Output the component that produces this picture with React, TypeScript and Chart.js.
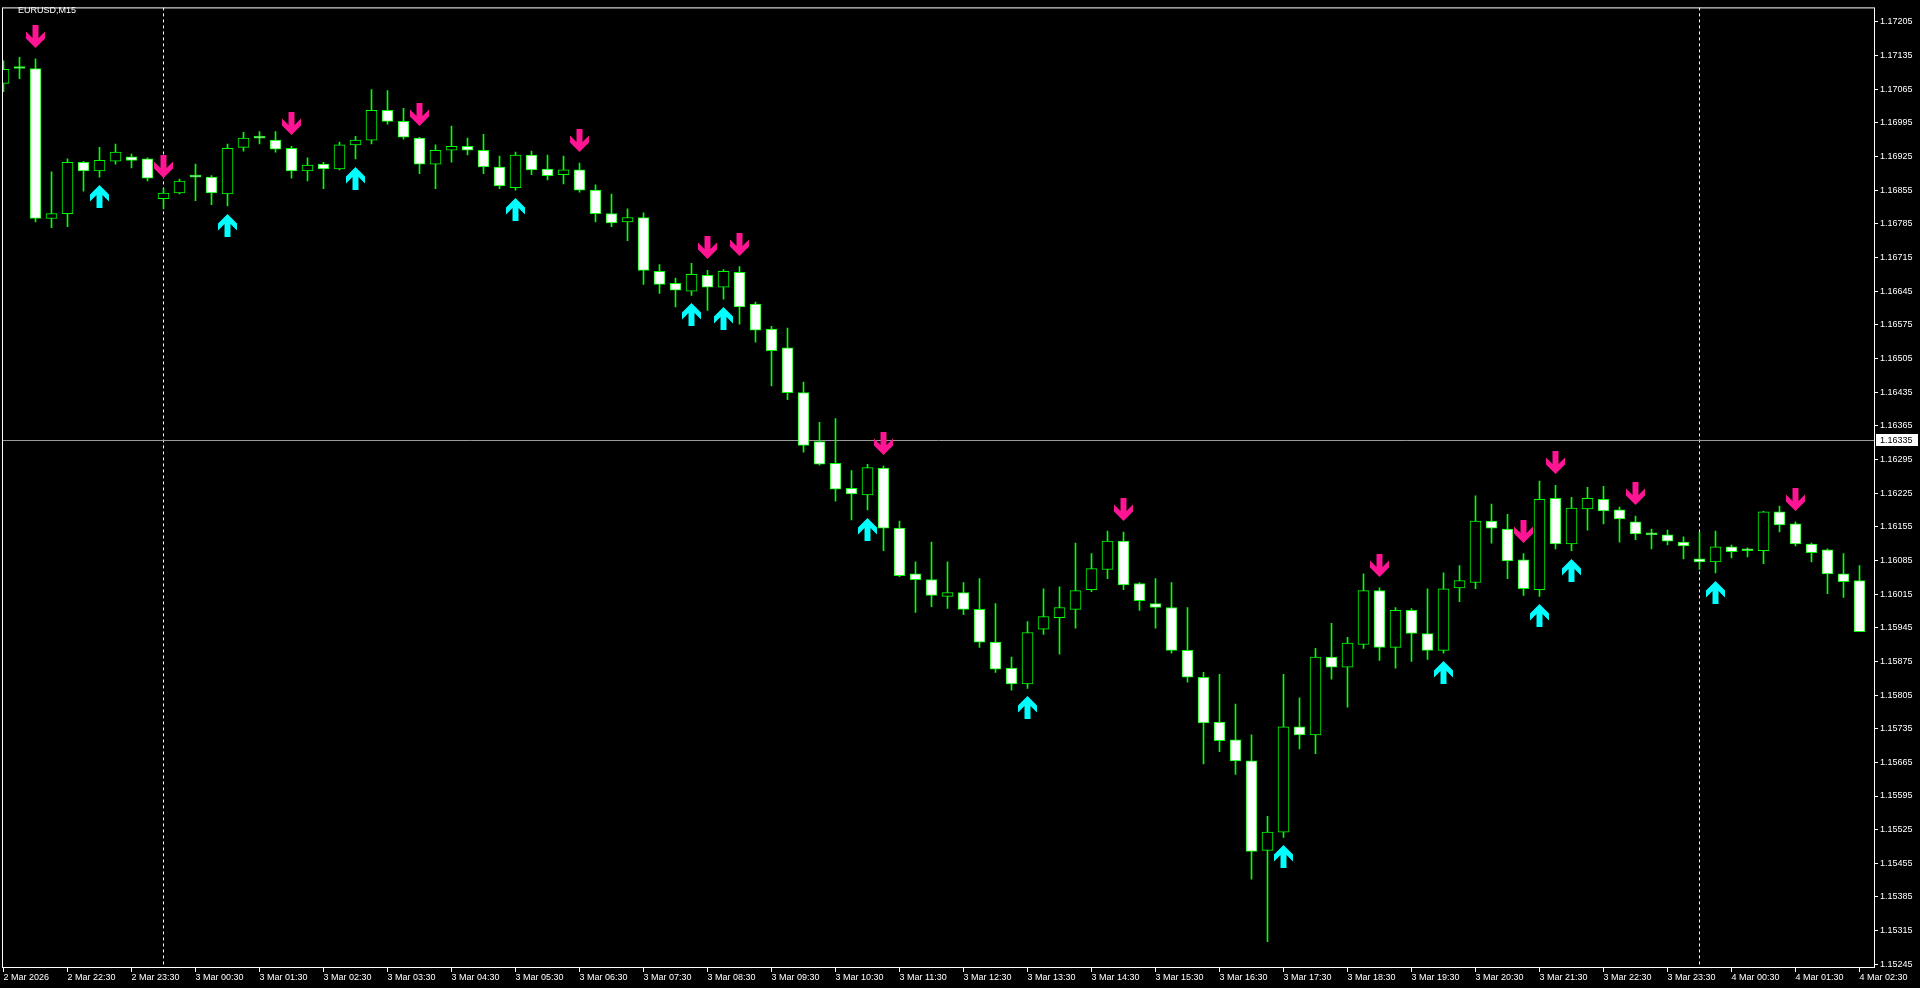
import { useEffect, useRef } from 'react';
import { Chart, registerables } from 'chart.js';

Chart.register(...registerables);

const symbolTitle = 'EURUSD,M15';

const openPrices = [
  1.17077, 1.17108, 1.17108, 1.16796, 1.16806, 1.16913, 1.16895, 1.16915, 1.16924, 1.16920,
  1.16837, 1.16849, 1.16882, 1.16882, 1.16847, 1.16944, 1.16963, 1.16959, 1.16942, 1.16895,
  1.16909, 1.16899, 1.16949, 1.16959, 1.17021, 1.16998, 1.16963, 1.16909, 1.16938, 1.16946,
  1.16938, 1.16903, 1.16860, 1.16928, 1.16899, 1.16887, 1.16897, 1.16855, 1.16806, 1.16789,
  1.16798, 1.16686, 1.16661, 1.16645, 1.16678, 1.16653, 1.16684, 1.16618, 1.16566, 1.16527,
  1.16434, 1.16332, 1.16287, 1.16235, 1.16221, 1.16277, 1.16152, 1.16057, 1.16045, 1.16010,
  1.16018, 1.15983, 1.15915, 1.15861, 1.15828, 1.15942, 1.15966, 1.15983, 1.16024, 1.16066,
  1.16125, 1.16037, 1.15995, 1.15987, 1.15898, 1.15842, 1.15749, 1.15712, 1.15668, 1.15482,
  1.15520, 1.15739, 1.15722, 1.15884, 1.15863, 1.15910, 1.16022, 1.15904, 1.15981, 1.15933,
  1.15898, 1.16028, 1.16039, 1.16167, 1.16150, 1.16086, 1.16024, 1.16214, 1.16119, 1.16192,
  1.16212, 1.16190, 1.16165, 1.16138, 1.16138, 1.16123, 1.16088, 1.16082, 1.16113, 1.16105,
  1.16105, 1.16186, 1.16161, 1.16119, 1.16107, 1.16057, 1.16043,
];

const highPrices = [
  1.17124, 1.17131, 1.17128, 1.16893, 1.16920, 1.16915, 1.16944, 1.16951, 1.16930, 1.16922,
  1.16858, 1.16878, 1.16909, 1.16885, 1.16951, 1.16975, 1.16977, 1.16977, 1.16946, 1.16922,
  1.16913, 1.16955, 1.16967, 1.17064, 1.17062, 1.17025, 1.16965, 1.16949, 1.16988, 1.16963,
  1.16971, 1.16926, 1.16934, 1.16936, 1.16928, 1.16926, 1.16911, 1.16866, 1.16847, 1.16816,
  1.16808, 1.16700, 1.16672, 1.16703, 1.16688, 1.16690, 1.16696, 1.16622, 1.16572, 1.16568,
  1.16456, 1.16372, 1.16380, 1.16272, 1.16285, 1.16281, 1.16167, 1.16082, 1.16123, 1.16082,
  1.16039, 1.16047, 1.15995, 1.15884, 1.15958, 1.16026, 1.16030, 1.16121, 1.16099, 1.16146,
  1.16144, 1.16039, 1.16047, 1.16039, 1.15987, 1.15852, 1.15848, 1.15786, 1.15722, 1.15553,
  1.15848, 1.15799, 1.15902, 1.15954, 1.15925, 1.16057, 1.16028, 1.15987, 1.15985, 1.16026,
  1.16059, 1.16074, 1.16219, 1.16202, 1.16181, 1.16099, 1.16250, 1.16241, 1.16216, 1.16237,
  1.16239, 1.16196, 1.16177, 1.16150, 1.16148, 1.16134, 1.16144, 1.16146, 1.16117, 1.16111,
  1.16187, 1.16198, 1.16165, 1.16121, 1.16109, 1.16099, 1.16074,
];

const lowPrices = [
  1.17060, 1.17087, 1.16789, 1.16777, 1.16779, 1.16853, 1.16882, 1.16909, 1.16901, 1.16874,
  1.16816, 1.16847, 1.16833, 1.16825, 1.16822, 1.16936, 1.16951, 1.16934, 1.16880, 1.16874,
  1.16858, 1.16897, 1.16920, 1.16951, 1.16992, 1.16961, 1.16889, 1.16858, 1.16913, 1.16928,
  1.16889, 1.16858, 1.16855, 1.16887, 1.16876, 1.16868, 1.16851, 1.16789, 1.16779, 1.16750,
  1.16659, 1.16640, 1.16612, 1.16636, 1.16605, 1.16628, 1.16576, 1.16539, 1.16448, 1.16419,
  1.16310, 1.16283, 1.16208, 1.16169, 1.16190, 1.16105, 1.16051, 1.15977, 1.15989, 1.15985,
  1.15972, 1.15904, 1.15852, 1.15815, 1.15819, 1.15931, 1.15890, 1.15944, 1.16020, 1.16047,
  1.16024, 1.15981, 1.15944, 1.15892, 1.15832, 1.15662, 1.15687, 1.15640, 1.15422, 1.15292,
  1.15509, 1.15693, 1.15683, 1.15838, 1.15780, 1.15902, 1.15877, 1.15861, 1.15875, 1.15879,
  1.15892, 1.15999, 1.16026, 1.16121, 1.16047, 1.16012, 1.16010, 1.16109, 1.16105, 1.16148,
  1.16161, 1.16123, 1.16128, 1.16109, 1.16117, 1.16088, 1.16066, 1.16059, 1.16090, 1.16092,
  1.16078, 1.16144, 1.16115, 1.16082, 1.16016, 1.16008, 1.15937,
];

const closePrices = [
  1.17106, 1.17108, 1.16796, 1.16806, 1.16913, 1.16895, 1.16917, 1.16934, 1.16917, 1.16880,
  1.16849, 1.16874, 1.16882, 1.16849, 1.16942, 1.16963, 1.16963, 1.16940, 1.16895, 1.16907,
  1.16899, 1.16949, 1.16959, 1.17021, 1.16998, 1.16965, 1.16909, 1.16938, 1.16946, 1.16938,
  1.16903, 1.16864, 1.16928, 1.16897, 1.16885, 1.16897, 1.16855, 1.16806, 1.16787, 1.16798,
  1.16688, 1.16659, 1.16647, 1.16680, 1.16653, 1.16686, 1.16612, 1.16564, 1.16521, 1.16434,
  1.16324, 1.16285, 1.16233, 1.16223, 1.16278, 1.16152, 1.16053, 1.16045, 1.16012, 1.16018,
  1.15983, 1.15915, 1.15859, 1.15828, 1.15935, 1.15968, 1.15987, 1.16022, 1.16068, 1.16125,
  1.16034, 1.16001, 1.15987, 1.15898, 1.15842, 1.15747, 1.15710, 1.15668, 1.15480, 1.15520,
  1.15739, 1.15722, 1.15884, 1.15863, 1.15913, 1.16022, 1.15904, 1.15981, 1.15933, 1.15898,
  1.16026, 1.16043, 1.16167, 1.16152, 1.16084, 1.16026, 1.16212, 1.16119, 1.16194, 1.16214,
  1.16188, 1.16171, 1.16140, 1.16138, 1.16125, 1.16115, 1.16082, 1.16113, 1.16103, 1.16105,
  1.16186, 1.16159, 1.16119, 1.16101, 1.16057, 1.16041, 1.15937,
];

// bar indexes carrying signal arrows
const sellSignals = [2, 10, 18, 26, 36, 44, 46, 55, 70, 86, 95, 97, 102, 112];
const buySignals = [6, 14, 22, 32, 43, 45, 54, 64, 80, 90, 96, 98, 107];

const xTickLabels = [
  '2 Mar 2026', '2 Mar 22:30', '2 Mar 23:30',
  '3 Mar 00:30', '3 Mar 01:30', '3 Mar 02:30', '3 Mar 03:30', '3 Mar 04:30', '3 Mar 05:30',
  '3 Mar 06:30', '3 Mar 07:30', '3 Mar 08:30', '3 Mar 09:30', '3 Mar 10:30', '3 Mar 11:30',
  '3 Mar 12:30', '3 Mar 13:30', '3 Mar 14:30', '3 Mar 15:30', '3 Mar 16:30', '3 Mar 17:30',
  '3 Mar 18:30', '3 Mar 19:30', '3 Mar 20:30', '3 Mar 21:30', '3 Mar 22:30', '3 Mar 23:30',
  '4 Mar 00:30', '4 Mar 01:30', '4 Mar 02:30',
];
const barsPerLabel = 4;

const yTickValues = [
  1.15245, 1.15315, 1.15385, 1.15455, 1.15525, 1.15595, 1.15665, 1.15735, 1.15805, 1.15875,
  1.15945, 1.16015, 1.16085, 1.16155, 1.16225, 1.16295, 1.16365, 1.16435, 1.16505, 1.16575,
  1.16645, 1.16715, 1.16785, 1.16855, 1.16925, 1.16995, 1.17065, 1.17135, 1.17205,
];

const dayBreaks = [10, 106];
const hLinePrice = 1.16335;

const Y_MIN = 1.1523734;
const Y_MAX = 1.1723499;
const X_MIN = -0.09375;
const X_MAX = 116.96875;

const FONT = 'Liberation Sans, Arial, sans-serif';

function drawArrow(ctx: CanvasRenderingContext2D, cx: number, ty: number, down: boolean, color: string) {
  const pts = [[-3, 0], [3, 0], [3, 13], [9.5, 6.5], [9.5, 13.5], [0, 23], [-9.5, 13.5], [-9.5, 6.5], [-3, 13]];
  ctx.beginPath();
  pts.forEach(([dx, dy], k) => {
    const yy = down ? ty + dy : ty + (23 - dy);
    if (k === 0) ctx.moveTo(cx + dx, yy);
    else ctx.lineTo(cx + dx, yy);
  });
  ctx.closePath();
  ctx.fillStyle = color;
  ctx.fill();
}

export default function App() {
  const ref = useRef<HTMLCanvasElement>(null);

  useEffect(() => {
    document.body.style.margin = '0';
    document.body.style.background = '#000';
    const canvas = ref.current!;
    const idx = openPrices.map((_, i) => i);
    const bodyData = idx.map((i) => ({ x: i, y: [openPrices[i], closePrices[i]] }));
    const wickData = idx.map((i) => ({ x: i, y: [lowPrices[i], highPrices[i]] }));
    const bodyFill = idx.map((i) => (closePrices[i] > openPrices[i] ? '#000000' : '#ffffff'));

    const mt4Plugin = {
      id: 'mt4',
      beforeDraw(chart: any) {
        const ctx = chart.ctx;
        ctx.save();
        ctx.fillStyle = '#000000';
        ctx.fillRect(0, 0, chart.width, chart.height);
        ctx.restore();
      },
      beforeDatasetsDraw(chart: any) {
        const { ctx, chartArea, scales } = chart;
        ctx.save();
        ctx.beginPath();
        ctx.rect(chartArea.left, chartArea.top, chartArea.right - chartArea.left, chartArea.bottom - chartArea.top);
        ctx.clip();
        // day separators
        ctx.strokeStyle = '#ffffff';
        ctx.lineWidth = 1;
        ctx.setLineDash([3, 3]);
        dayBreaks.forEach((b) => {
          const x = Math.round(scales.x.getPixelForValue(b) - 0.5) + 0.5;
          ctx.beginPath();
          ctx.moveTo(x, chartArea.top);
          ctx.lineTo(x, chartArea.bottom);
          ctx.stroke();
        });
        ctx.setLineDash([]);
        // horizontal price line
        const yp = Math.round(scales.y.getPixelForValue(hLinePrice) - 0.5) + 0.5;
        ctx.strokeStyle = '#9a9a9a';
        ctx.beginPath();
        ctx.moveTo(chartArea.left, yp);
        ctx.lineTo(chartArea.right, yp);
        ctx.stroke();
        ctx.restore();
      },
      afterDatasetsDraw(chart: any) {
        const { ctx, chartArea, scales } = chart;
        ctx.save();
        ctx.beginPath();
        ctx.rect(chartArea.left, chartArea.top, chartArea.right - chartArea.left, chartArea.bottom - chartArea.top);
        ctx.clip();
        sellSignals.forEach((i) => {
          const cx = scales.x.getPixelForValue(i);
          const yh = scales.y.getPixelForValue(highPrices[i]);
          drawArrow(ctx, cx, Math.round(yh - 11 - 23), true, '#ff1493');
        });
        buySignals.forEach((i) => {
          const cx = scales.x.getPixelForValue(i);
          const yl = scales.y.getPixelForValue(lowPrices[i]);
          drawArrow(ctx, cx, Math.round(yl + 8), false, '#00ffff');
        });
        ctx.restore();
      },
      afterDraw(chart: any) {
        const { ctx, chartArea, scales } = chart;
        ctx.save();
        ctx.strokeStyle = '#ffffff';
        ctx.lineWidth = 1;
        ctx.strokeRect(chartArea.left + 0.5, chartArea.top + 0.5, chartArea.right - chartArea.left - 1, chartArea.bottom - chartArea.top - 1);
        // title
        ctx.fillStyle = '#ffffff';
        ctx.font = `9px ${FONT}`;
        ctx.textBaseline = 'middle';
        ctx.textAlign = 'left';
        ctx.fillText(symbolTitle, 18, 11);
        // price label
        const yp = scales.y.getPixelForValue(hLinePrice);
        const bx = chartArea.right + 1;
        ctx.fillStyle = '#ffffff';
        ctx.fillRect(bx, Math.round(yp) - 6, 42, 12);
        ctx.fillStyle = '#000000';
        ctx.fillText(hLinePrice.toFixed(5), bx + 4, Math.round(yp) + 0.5);
        ctx.restore();
      },
    };

    const chart = new Chart(canvas, {
      type: 'bar',
      data: {
        datasets: [
          {
            label: 'wick',
            data: wickData as any,
            backgroundColor: '#00ff00',
            borderWidth: 0,
            barThickness: 1,
            grouped: false,
            order: 1,
          } as any,
          {
            label: 'body',
            data: bodyData as any,
            backgroundColor: bodyFill,
            borderColor: '#00ff00',
            borderWidth: 1,
            borderSkipped: false,
            barThickness: 11,
            minBarLength: 2,
            grouped: false,
            order: 0,
          } as any,
        ],
      },
      options: {
        animation: false,
        responsive: false,
        devicePixelRatio: 1,
        layout: { padding: { left: 2, top: 2, right: 0, bottom: 0 }, autoPadding: false } as any,
        plugins: {
          legend: { display: false },
          tooltip: { enabled: false },
        },
        scales: {
          x: {
            type: 'linear',
            min: X_MIN,
            max: X_MAX,
            offset: false,
            afterFit: (s: any) => { s.height = 20; },
            afterBuildTicks: (s: any) => {
              s.ticks = xTickLabels.map((_, k) => ({ value: k * barsPerLabel }));
            },
            grid: { offset: false, drawOnChartArea: false, drawTicks: true, tickLength: 4, color: '#ffffff' },
            border: { display: false },
            ticks: {
              autoSkip: false,
              maxRotation: 0,
              minRotation: 0,
              align: 'start',
              padding: 0,
              color: '#ffffff',
              font: { family: FONT, size: 9 },
              callback: (_v: any, k: number) => xTickLabels[k],
            },
          } as any,
          y: {
            type: 'linear',
            position: 'right',
            min: Y_MIN,
            max: Y_MAX,
            afterFit: (s: any) => { s.width = 45; },
            afterBuildTicks: (s: any) => {
              s.ticks = yTickValues.map((v) => ({ value: v }));
            },
            grid: { drawOnChartArea: false, drawTicks: true, tickLength: 3, color: '#ffffff' },
            border: { display: false },
            ticks: {
              padding: 2,
              color: '#ffffff',
              font: { family: FONT, size: 9 },
              callback: (v: any) => Number(v).toFixed(5),
            },
          } as any,
        },
      },
      plugins: [mt4Plugin],
    });

    return () => chart.destroy();
  }, []);

  return (
    <div style={{ width: 1920, height: 988, background: '#000' }}>
      <canvas ref={ref} width={1920} height={988} style={{ display: 'block' }} />
    </div>
  );
}
